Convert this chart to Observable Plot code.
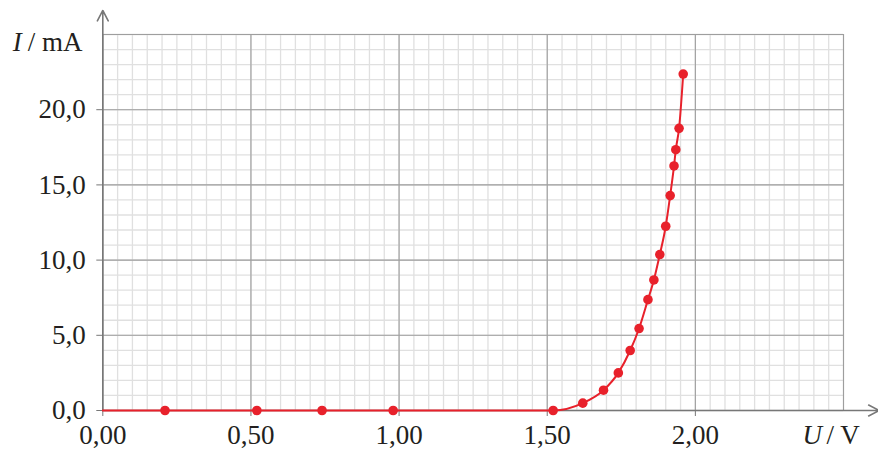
<!DOCTYPE html>
<html>
<head>
<meta charset="utf-8">
<script src="https://cdn.jsdelivr.net/npm/d3@7"></script>
<script src="https://cdn.jsdelivr.net/npm/@observablehq/plot@0.6"></script>
<style>
  html, body { margin: 0; padding: 0; background: #fff; }
</style>
</head>
<body>
<div id="chart"></div>
<script>
// Measured points (U in V, I in mA)
const U = [0.21, 0.52, 0.74, 0.98, 1.52, 1.62, 1.69, 1.74, 1.78, 1.81, 1.84, 1.86, 1.88, 1.90, 1.915, 1.928, 1.934, 1.945, 1.959];
const I = [0, 0, 0, 0, 0, 0.49, 1.35, 2.50, 3.99, 5.45, 7.37, 8.68, 10.37, 12.25, 14.29, 16.26, 17.34, 18.76, 22.37];
// Curve starts at the origin
const curveStart = {U: 0, I: 0};

const xTicks = [0, 0.5, 1.0, 1.5, 2.0];
const yTicks = [0, 5, 10, 15, 20];
const xMajorGrid = [0, 0.5, 1.0, 1.5, 2.0, 2.5];
const yMajorGrid = [0, 5, 10, 15, 20, 25];
const xMinorGrid = d3.range(0, 2.5001, 0.05);
const yMinorGrid = d3.range(0, 25.001, 1);

const xLabel = ["U", "/ V"];
const yLabel = ["I", "/ mA"];

const points = U.map((u, i) => ({U: u, I: I[i]}));
const curve = [curveStart, ...points];
const axisArrows = [
  {x1: 0, y1: 0, x2: 0, y2: 26.6},
  {x1: 0, y1: 0, x2: 2.62, y2: 0}
];

const red = "#e8212b";
const axisGray = "#777";
const textColor = "#231f20";
const fmtX = d => d.toFixed(2).replace(".", ",");
const fmtY = d => d.toFixed(1).replace(".", ",");

const chart = Plot.plot({
  width: 878,
  height: 453,
  marginLeft: 102.3,
  marginRight: 35,
  marginTop: 34,
  marginBottom: 43,
  x: {domain: [0, 2.5]},
  y: {domain: [0, 25]},
  style: {fontFamily: "'Liberation Serif', 'Times New Roman', serif", fontSize: "27px", background: "#fff", color: textColor},
  marks: [
    Plot.gridX(xMinorGrid, {stroke: "#e0e0e0", strokeOpacity: 1, strokeWidth: 1.3}),
    Plot.gridY(yMinorGrid, {stroke: "#e0e0e0", strokeOpacity: 1, strokeWidth: 1.3}),
    Plot.gridX(xMajorGrid, {stroke: "#9e9e9e", strokeOpacity: 1, strokeWidth: 1.1}),
    Plot.gridY(yMajorGrid, {stroke: "#9e9e9e", strokeOpacity: 1, strokeWidth: 1.1}),
    Plot.axisX({ticks: xTicks, tickFormat: fmtX, tickSize: 6, tickPadding: 8, stroke: axisGray, label: null, fontSize: 27, fill: textColor}),
    Plot.axisY({ticks: yTicks, tickFormat: fmtY, tickSize: 6, tickPadding: 11, stroke: axisGray, label: null, fontSize: 27, fill: textColor}),
    Plot.arrow(axisArrows, {x1: "x1", y1: "y1", x2: "x2", y2: "y2", stroke: axisGray, strokeWidth: 1.6, headAngle: 55, headLength: 11}),
    Plot.line(curve, {x: "U", y: "I", stroke: red, strokeWidth: 2, curve: "monotone-x"}),
    Plot.dot(points, {x: "U", y: "I", r: 4.8, fill: red, stroke: "none"}),
    Plot.text([yLabel[0]], {text: d => d, frameAnchor: "top-left", dx: -90, dy: 7.4, textAnchor: "start", lineAnchor: "middle", fontStyle: "italic", fontSize: 27, fill: textColor}),
    Plot.text([yLabel[1]], {text: d => d, frameAnchor: "top-left", dx: -75, dy: 7.4, textAnchor: "start", lineAnchor: "middle", fontSize: 27, fill: textColor}),
    Plot.text([xLabel[0]], {text: d => d, frameAnchor: "bottom-right", dx: -41, dy: 24.4, textAnchor: "start", lineAnchor: "middle", fontStyle: "italic", fontSize: 27, fill: textColor}),
    Plot.text([xLabel[1]], {text: d => d, frameAnchor: "bottom-right", dx: -17, dy: 24.4, textAnchor: "start", lineAnchor: "middle", fontSize: 27, fill: textColor})
  ]
});
document.getElementById("chart").appendChild(chart);
</script>
</body>
</html>
